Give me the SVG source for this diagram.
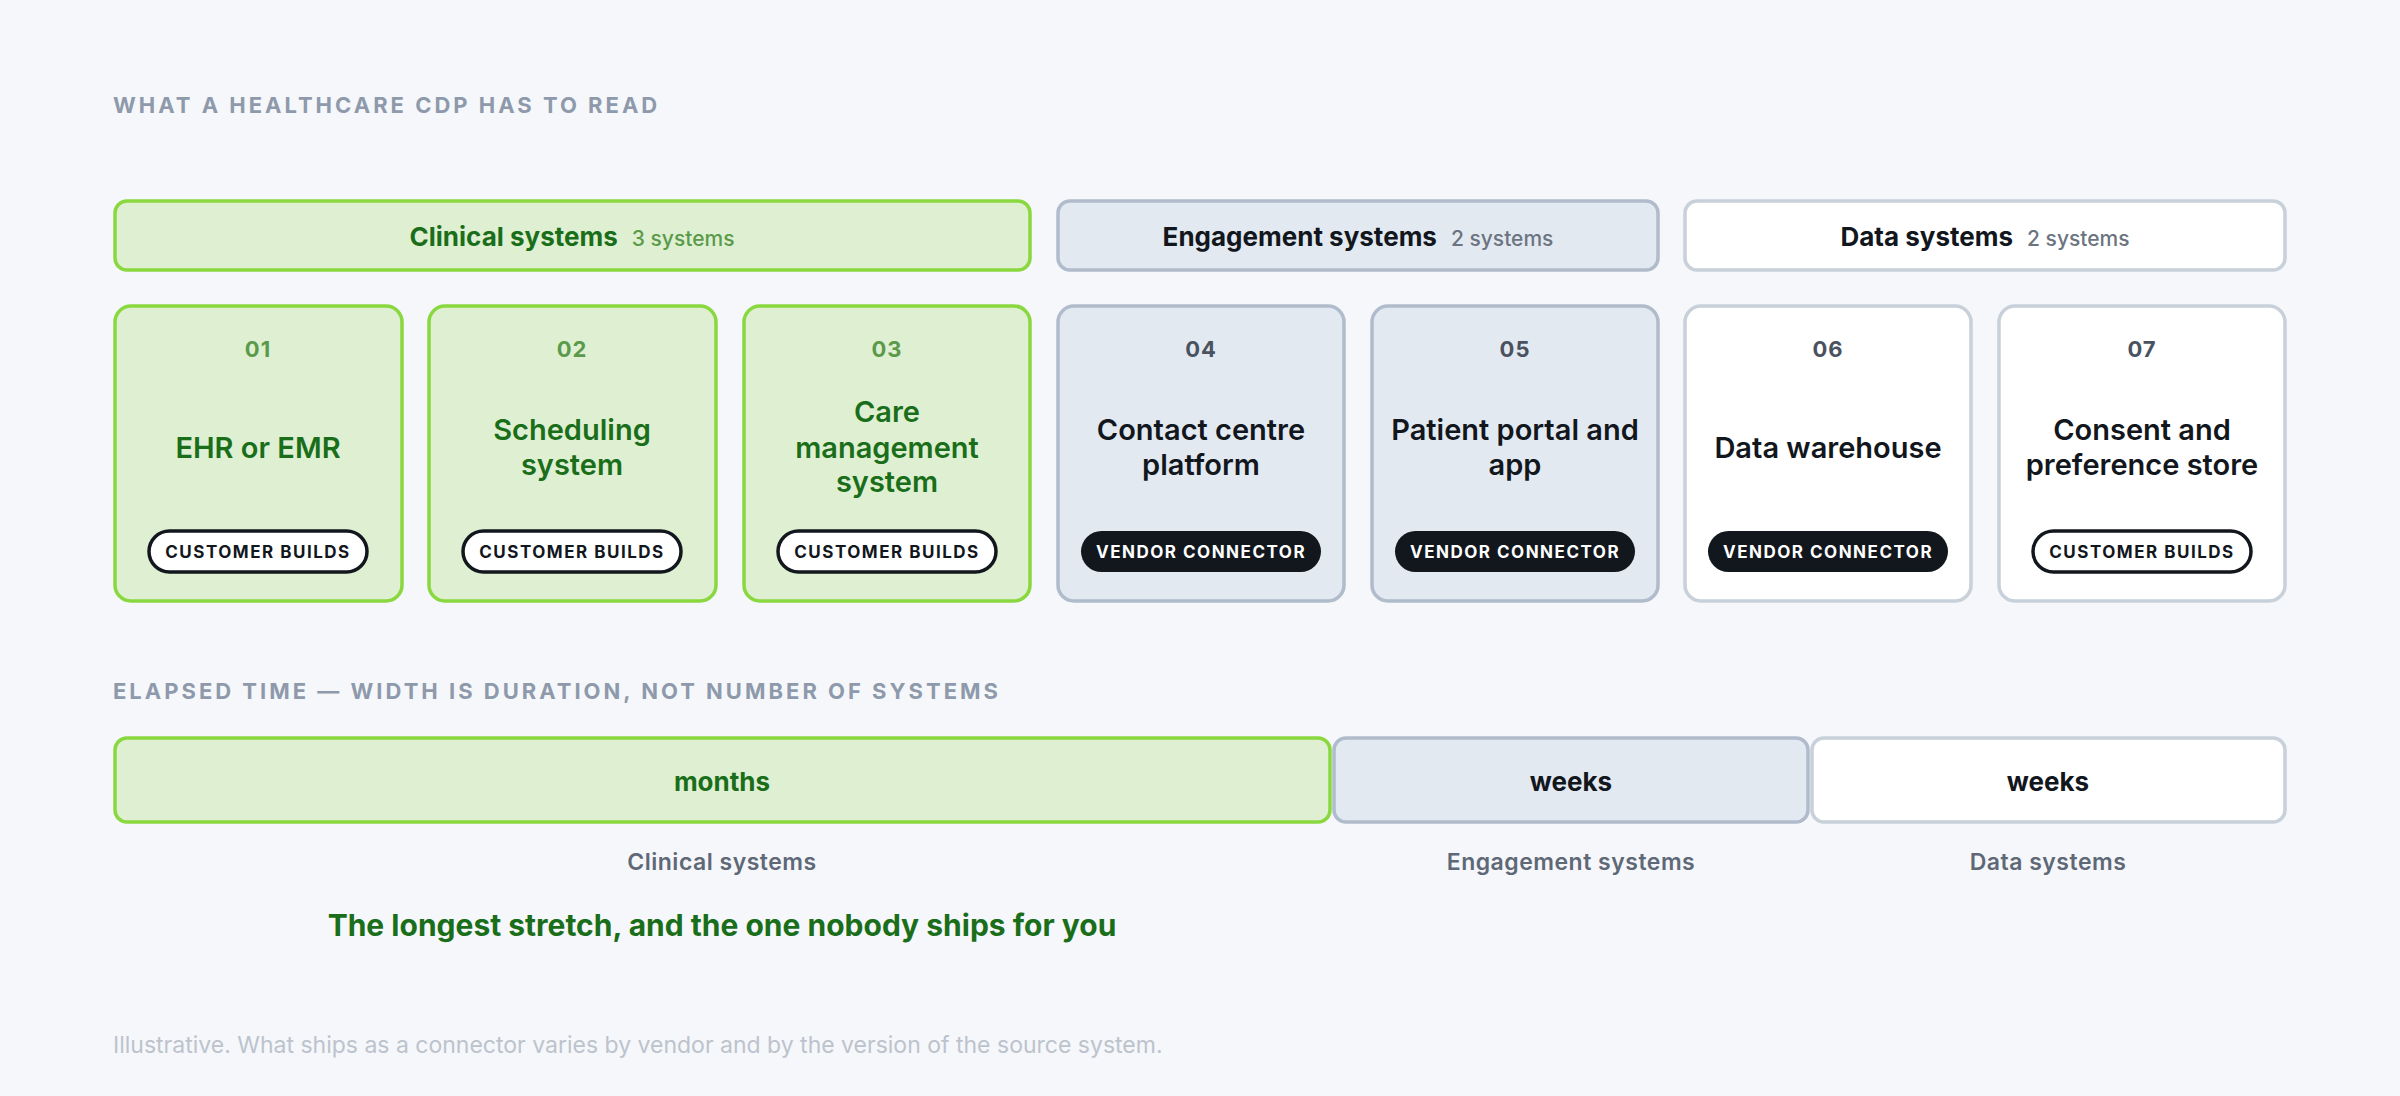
<svg xmlns="http://www.w3.org/2000/svg" width="2400" height="1096" viewBox="0 0 2400 1096">
<style>
text{font-family:Inter,"Noto Sans","Liberation Sans",sans-serif;text-anchor:middle}
.cap{font-size:22px;font-weight:700;fill:#8e9aab;letter-spacing:3px;text-anchor:start}
.g{fill:#dff0d2;stroke:#8ad83f;stroke-width:3.5}
.e{fill:#e3e9f1;stroke:#b0bccb;stroke-width:3.5}
.d{fill:#ffffff;stroke:#c8d0da;stroke-width:3.5}
.hd{font-size:26px;font-weight:700}
.cnt{font-size:21px;font-weight:500}
.num{font-size:22px;font-weight:700;letter-spacing:1px}
.tt{font-size:29px;font-weight:600}
.gt{fill:#1a6e1a}
.dt{fill:#12161d}
.bc{fill:#ffffff;stroke:#12161d;stroke-width:3.5}
.bv{fill:#12161d}
.bt{font-size:17px;font-weight:700;letter-spacing:1.5px}
.lab{font-size:23px;font-weight:600;fill:#5e6877;letter-spacing:0.5px}
</style>
<rect width="2400" height="1096" fill="#f5f7fa"/>
<text class="cap" x="113" y="113">WHAT A HEALTHCARE CDP HAS TO READ</text>

<g id="grp-clinical"><rect class="g" x="115" y="201" width="915" height="69" rx="12"/>
<text x="572" y="246" style="text-anchor:middle"><tspan class="hd gt">Clinical systems</tspan><tspan class="cnt" fill="#5a9a4a" dx="14">3 systems</tspan></text></g>
<g id="grp-engagement"><rect class="e" x="1058" y="201" width="600" height="69" rx="12"/>
<text x="1358" y="246"><tspan class="hd dt">Engagement systems</tspan><tspan class="cnt" fill="#6b7480" dx="14">2 systems</tspan></text></g>
<g id="grp-data"><rect class="d" x="1685" y="201" width="600" height="69" rx="12"/>
<text x="1985" y="246"><tspan class="hd dt">Data systems</tspan><tspan class="cnt" fill="#6b7480" dx="14">2 systems</tspan></text></g>

<g id="n01"><rect class="g" x="115" y="306" width="287" height="295" rx="16"/>
<text class="num" x="258" y="357" fill="#5a9a4a">01</text>
<text class="tt gt" x="258" y="458">EHR or EMR</text>
<rect class="bc" x="149" y="531" width="218" height="41" rx="20.5"/><text class="bt dt" x="258" y="558">CUSTOMER BUILDS</text></g>
<g id="n02"><rect class="g" x="429" y="306" width="287" height="295" rx="16"/>
<text class="num" x="572" y="357" fill="#5a9a4a">02</text>
<text class="tt gt" x="572" y="440">Scheduling</text><text class="tt gt" x="572" y="475">system</text>
<rect class="bc" x="463" y="531" width="218" height="41" rx="20.5"/><text class="bt dt" x="572" y="558">CUSTOMER BUILDS</text></g>
<g id="n03"><rect class="g" x="744" y="306" width="286" height="295" rx="16"/>
<text class="num" x="887" y="357" fill="#5a9a4a">03</text>
<text class="tt gt" x="887" y="422">Care</text><text class="tt gt" x="887" y="458">management</text><text class="tt gt" x="887" y="492">system</text>
<rect class="bc" x="778" y="531" width="218" height="41" rx="20.5"/><text class="bt dt" x="887" y="558">CUSTOMER BUILDS</text></g>
<g id="n04"><rect class="e" x="1058" y="306" width="286" height="295" rx="16"/>
<text class="num" x="1201" y="357" fill="#4a5260">04</text>
<text class="tt dt" x="1201" y="440">Contact centre</text><text class="tt dt" x="1201" y="475">platform</text>
<rect class="bv" x="1081" y="531" width="240" height="41" rx="20.5"/><text class="bt" fill="#fff" x="1201" y="558">VENDOR CONNECTOR</text></g>
<g id="n05"><rect class="e" x="1372" y="306" width="286" height="295" rx="16"/>
<text class="num" x="1515" y="357" fill="#4a5260">05</text>
<text class="tt dt" x="1515" y="440">Patient portal and</text><text class="tt dt" x="1515" y="475">app</text>
<rect class="bv" x="1395" y="531" width="240" height="41" rx="20.5"/><text class="bt" fill="#fff" x="1515" y="558">VENDOR CONNECTOR</text></g>
<g id="n06"><rect class="d" x="1685" y="306" width="286" height="295" rx="16"/>
<text class="num" x="1828" y="357" fill="#4a5260">06</text>
<text class="tt dt" x="1828" y="458">Data warehouse</text>
<rect class="bv" x="1708" y="531" width="240" height="41" rx="20.5"/><text class="bt" fill="#fff" x="1828" y="558">VENDOR CONNECTOR</text></g>
<g id="n07"><rect class="d" x="1999" y="306" width="286" height="295" rx="16"/>
<text class="num" x="2142" y="357" fill="#4a5260">07</text>
<text class="tt dt" x="2142" y="440">Consent and</text><text class="tt dt" x="2142" y="475">preference store</text>
<rect class="bc" x="2033" y="531" width="218" height="41" rx="20.5"/><text class="bt dt" x="2142" y="558">CUSTOMER BUILDS</text></g>

<text class="cap" x="113" y="699">ELAPSED TIME — WIDTH IS DURATION, NOT NUMBER OF SYSTEMS</text>
<g id="bar-clinical"><rect class="g" x="115" y="738" width="1215" height="84" rx="12"/><text class="hd gt" x="722" y="791">months</text>
<text class="lab" x="722" y="870">Clinical systems</text></g>
<g id="bar-engagement"><rect class="e" x="1334" y="738" width="474" height="84" rx="12"/><text class="hd dt" x="1571" y="791">weeks</text>
<text class="lab" x="1571" y="870">Engagement systems</text></g>
<g id="bar-data"><rect class="d" x="1812" y="738" width="473" height="84" rx="12"/><text class="hd dt" x="2048" y="791">weeks</text>
<text class="lab" x="2048" y="870">Data systems</text></g>
<text x="722" y="936" font-size="30" font-weight="700" fill="#1a6e1a">The longest stretch, and the one nobody ships for you</text>
<text x="113" y="1053" font-size="23" fill="#bcc3cd" style="text-anchor:start">Illustrative. What ships as a connector varies by vendor and by the version of the source system.</text>
</svg>
